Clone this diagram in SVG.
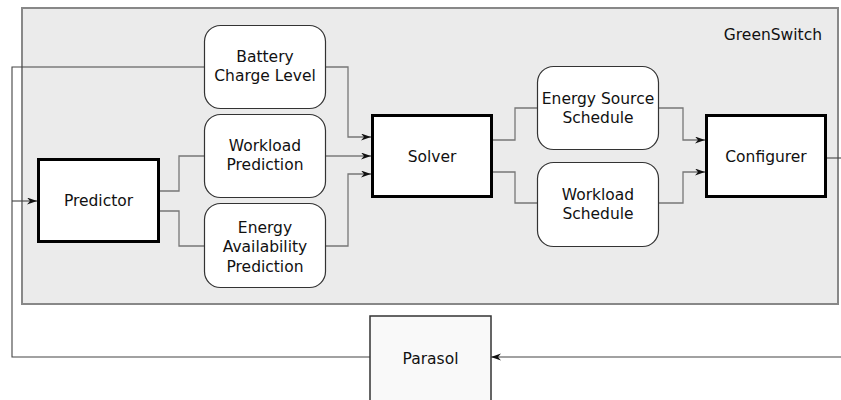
<svg xmlns="http://www.w3.org/2000/svg" width="841" height="400" viewBox="0 0 841 400">
<style>
text{font-family:"DejaVu Sans","Liberation Sans",sans-serif;font-size:15.5px;fill:#111;text-anchor:middle}
.rb{fill:#fff;stroke:#333;stroke-width:1.2}
.tb{fill:#fff;stroke:#000;stroke-width:3}
.c{fill:none;stroke:#777;stroke-width:1.3}
.f{fill:none;stroke:#444;stroke-width:1.1}
</style>
<defs>
<marker id="ah" markerWidth="10" markerHeight="8" refX="10" refY="3.5" orient="auto" markerUnits="userSpaceOnUse">
<path d="M0,0 L10,3.5 L0,7 L3,3.5 z" fill="#111"/>
</marker>
</defs>
<g id="greenswitch">
<rect x="22" y="8" width="816" height="296" fill="#ebebeb" stroke="#888" stroke-width="2"/>
<text x="822" y="40" style="text-anchor:end">GreenSwitch</text>
</g>
<g id="connectors">
<path class="f" d="M204,67 H12 V357 H370"/>
<path class="f" d="M12,201 H37" marker-end="url(#ah)"/>
<path class="f" d="M841,357 H491" marker-end="url(#ah)"/>
<path class="f" d="M827,158 H841"/>
<path class="c" d="M160,191 H179 V156 H204"/>
<path class="c" d="M160,211 H179 V246 H204"/>
<path class="c" d="M326,67 H348 V137 H371" marker-end="url(#ah)"/>
<path class="f" d="M326,156 H371" marker-end="url(#ah)"/>
<path class="c" d="M326,246 H348 V174 H371" marker-end="url(#ah)"/>
<path class="c" d="M493,140 H515 V108 H537"/>
<path class="c" d="M493,172 H515 V203 H537"/>
<path class="c" d="M659,108 H683 V140 H705" marker-end="url(#ah)"/>
<path class="c" d="M659,203 H683 V172 H705" marker-end="url(#ah)"/>
</g>
<g id="battery">
<rect class="rb" x="204.5" y="25.5" width="121" height="83" rx="16"/>
<text x="265" y="62">Battery</text>
<text x="265" y="81">Charge Level</text>
</g>
<g id="workload-prediction">
<rect class="rb" x="204.5" y="114.5" width="121" height="83" rx="16"/>
<text x="265" y="151">Workload</text>
<text x="265" y="170">Prediction</text>
</g>
<g id="energy-availability">
<rect class="rb" x="204.5" y="203.5" width="121" height="84" rx="16"/>
<text x="265" y="232.5">Energy</text>
<text x="265" y="252">Availability</text>
<text x="265" y="271.5">Prediction</text>
</g>
<g id="predictor">
<rect class="tb" x="38.5" y="159.5" width="120" height="82"/>
<text x="98.5" y="206">Predictor</text>
</g>
<g id="solver">
<rect class="tb" x="372.5" y="115.5" width="119" height="81"/>
<text x="432" y="162">Solver</text>
</g>
<g id="energy-source-schedule">
<rect class="rb" x="537.5" y="66.5" width="121" height="83" rx="16"/>
<text x="598" y="104">Energy Source</text>
<text x="598" y="123">Schedule</text>
</g>
<g id="workload-schedule">
<rect class="rb" x="537.5" y="162.5" width="121" height="84" rx="16"/>
<text x="598" y="200">Workload</text>
<text x="598" y="219">Schedule</text>
</g>
<g id="configurer">
<rect class="tb" x="706.5" y="115.5" width="119" height="81"/>
<text x="766" y="162">Configurer</text>
</g>
<g id="parasol">
<rect x="370" y="316" width="121" height="100" fill="#f9f9f9" stroke="#333" stroke-width="1.5"/>
<text x="430.5" y="364">Parasol</text>
</g>
</svg>
